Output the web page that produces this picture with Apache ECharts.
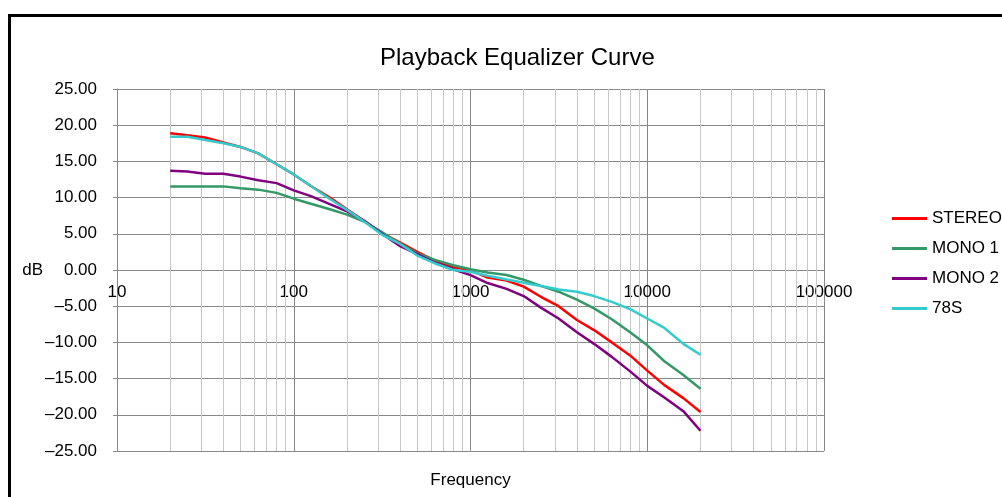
<!DOCTYPE html>
<html>
<head>
<meta charset="utf-8">
<script src="https://cdn.jsdelivr.net/npm/echarts@6/dist/echarts.min.js"></script>
<style>
html,body{margin:0;padding:0;background:#fff;}
#chart{width:1002px;height:497px;}
</style>
</head>
<body>
<div id="chart"></div>
<script>
var frequencies = [20,25,31.5,40,50,63,80,100,125,160,200,250,315,400,500,630,800,1000,1250,1600,2000,2500,3150,4000,5000,6300,8000,10000,12500,16000,20000];
var stereo = [18.9,18.6,18.3,17.6,17.0,16.1,14.6,13.2,11.6,10.0,8.4,6.8,5.1,3.8,2.5,1.3,0.4,-0.05,-1.05,-1.45,-2.3,-3.7,-5.0,-6.9,-8.3,-10.0,-11.8,-13.9,-15.9,-17.7,-19.6];
var mono1 = [11.55,11.55,11.55,11.55,11.3,11.1,10.65,9.85,9.15,8.4,7.65,6.7,5.25,3.6,2.3,1.4,0.65,0.1,-0.35,-0.7,-1.35,-2.2,-3.0,-4.1,-5.3,-6.8,-8.6,-10.4,-12.6,-14.5,-16.4];
var mono2 = [13.7,13.6,13.3,13.3,12.9,12.4,12.0,11.0,10.2,9.1,8.1,6.8,5.0,3.3,2.2,1.0,0.1,-0.7,-1.8,-2.6,-3.6,-5.2,-6.7,-8.6,-10.2,-12.0,-14.0,-16.0,-17.6,-19.5,-22.2];
var s78 = [18.4,18.4,17.95,17.5,17.0,16.1,14.6,13.2,11.6,9.8,8.3,6.7,4.9,3.6,2.0,0.9,0.0,-0.25,-0.8,-1.3,-1.75,-2.2,-2.7,-3.0,-3.6,-4.4,-5.4,-6.7,-8.0,-10.2,-11.7];
var seriesNames = ['STEREO','MONO 1','MONO 2','78S'];
var seriesColors = ['#ff0000','#339966','#800080','#33cccc'];
var minorGridFreqs = [20,30,40,50,60,70,80,90,200,300,400,500,600,700,800,900,2000,3000,4000,5000,6000,7000,8000,9000,20000,30000,40000,50000,60000,70000,80000,90000];
var yTicks = {min:-25, max:25, interval:5};
var xRange = {min:10, max:100000};

var FONT = 'Liberation Sans, Arial, sans-serif';
function pairs(vals){ return frequencies.map(function(f,i){ return [f, vals[i]]; }); }
var allVals = [stereo, mono1, mono2, s78];

var series = allVals.map(function(v,i){
  return {
    name: seriesNames[i], type:'line', data: pairs(v), symbol:'none', z:3,
    lineStyle:{color:seriesColors[i], width:2.5}, itemStyle:{color:seriesColors[i]},
    emphasis:{disabled:true}
  };
});
series.push({
  name:'_minor', type:'line', data:[], z:1, silent:true,
  markLine:{
    silent:true, z:1, symbol:['none','none'], animation:false,
    label:{show:false},
    lineStyle:{type:'solid', color:'#c8c8c8', width:1},
    emphasis:{disabled:true},
    data: minorGridFreqs.map(function(f){ return {xAxis:f}; })
  }
});

var gridTop = 89, gridBottom = 46, chartH = 497;
var plotH = chartH - gridTop - gridBottom;
// shift the x axis (labels) up to the 0 dB line
var zeroOffset = -plotH * (0 - yTicks.min) / (yTicks.max - yTicks.min);

var chart = echarts.init(document.getElementById('chart'), null, {renderer:'canvas'});
chart.setOption({
  animation:false,
  backgroundColor:'#fff',
  title:{text:'Playback Equalizer Curve', left:375, top:41,
    textStyle:{fontFamily:FONT, fontSize:24, fontWeight:'normal', color:'#000'}},
  legend:{orient:'vertical', left:887, top:205, itemWidth:35, itemHeight:3, itemGap:13,
    icon:'rect',
    data:seriesNames,
    textStyle:{fontFamily:FONT, fontSize:17, lineHeight:17, color:'#000'}},
  grid:{left:117, right:178, top:gridTop, bottom:gridBottom, containLabel:false, outerBoundsMode:'none'},
  xAxis:{type:'log', logBase:10, min:xRange.min, max:xRange.max,
    offset: zeroOffset,
    name:'Frequency', nameLocation:'middle', nameGap:202, nameMoveOverlap:false,
    nameTextStyle:{fontFamily:FONT, fontSize:17, color:'#000'},
    axisLine:{onZero:false, lineStyle:{color:'#888', width:1}},
    axisTick:{show:false},
    axisLabel:{fontFamily:FONT, fontSize:17, color:'#000', margin:14, showMinLabel:true, showMaxLabel:true,
      formatter:function(v){ return String(Math.round(v)); }},
    splitLine:{show:true, lineStyle:{color:'#888', width:1}}
  },
  yAxis:{type:'value', min:yTicks.min, max:yTicks.max, interval:yTicks.interval,
    name:'dB', nameLocation:'middle', nameRotate:0, nameGap:74, nameMoveOverlap:false,
    nameTextStyle:{fontFamily:FONT, fontSize:17, color:'#000'},
    axisLine:{show:true, lineStyle:{color:'#888', width:1}},
    axisTick:{show:true, length:4, lineStyle:{color:'#888'}},
    axisLabel:{fontFamily:FONT, fontSize:17, color:'#000', margin:20, padding:[3,0,0,0],
      formatter:function(v){ return (v<0?'\u2013':'') + Math.abs(v).toFixed(2); }},
    splitLine:{show:true, lineStyle:{color:'#888', width:1}}
  },
  graphic:[{type:'rect', silent:true, z:100,
    shape:{x:9.5, y:15.5, width:1200, height:700},
    style:{fill:'none', stroke:'#000', lineWidth:3}}],
  series:series
});
</script>
</body>
</html>
